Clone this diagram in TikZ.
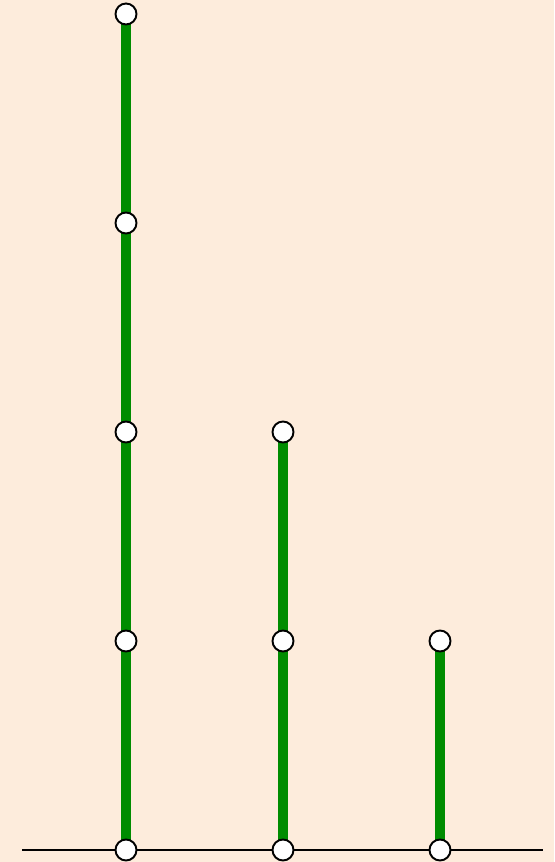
\documentclass[tikz,border=0pt]{standalone}
\usepackage{tikz}
\usetikzlibrary{positioning}
\definecolor{bgpeach}{RGB}{253,236,220}
\definecolor{stemgreen}{RGB}{0,140,0}
\pgfdeclarelayer{background}
\pgfsetlayers{background,main}
\tikzset{
  dot/.style={circle, draw=black, fill=white, line width=1.1pt, inner sep=0pt, minimum size=0.42cm},
  stem/.style={stemgreen, line width=0.2cm},
  baseln/.style={black, line width=0.8pt},
}

\begin{document}
\begin{tikzpicture}
  \useasboundingbox (0,0) rectangle (11.08,17.24);
  % ground line
  \coordinate (gl) at (0.44,0.24);
  \coordinate (gr) at (10.86,0.24);
  \draw[baseln] (gl) -- (gr);
  % columns of dots
  \foreach \c/\x/\n in {a/2.52/4, b/5.66/2, c/8.80/1} {
    \foreach \k in {0,...,\n}
      \node[dot] (\c\k) at (\x,0.24+4.18*\k) {};
  }
  \begin{pgfonlayer}{background}
    \fill[bgpeach] (0,0) rectangle (11.08,17.24);
    \foreach \c/\n in {a/4, b/2, c/1}
      \draw[stem] (\c0.center) -- (\c\n.center);
  \end{pgfonlayer}
\end{tikzpicture}
\end{document}
